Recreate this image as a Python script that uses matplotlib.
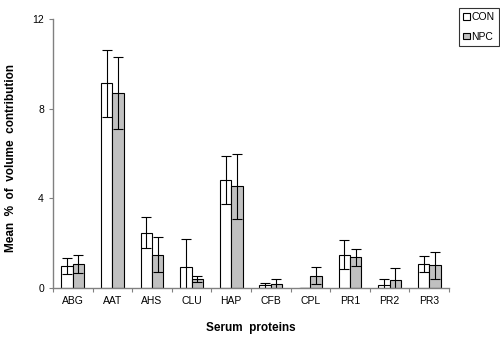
import matplotlib
matplotlib.use("Agg")
import matplotlib.pyplot as plt
import numpy as np

categories = ["ABG", "AAT", "AHS", "CLU", "HAP", "CFB", "CPL", "PR1", "PR2", "PR3"]
con_mean = [0.98, 9.14, 2.47, 0.92, 4.82, 0.12, 0.0, 1.49, 0.13, 1.07]
con_err = [0.37, 1.5, 0.7, 1.28, 1.05, 0.12, 0.0, 0.64, 0.28, 0.34]
npc_mean = [1.08, 8.7, 1.49, 0.39, 4.54, 0.19, 0.55, 1.37, 0.34, 1.01]
npc_err = [0.4, 1.6, 0.78, 0.13, 1.45, 0.22, 0.38, 0.37, 0.54, 0.6]
yticks = [0, 4, 8, 12]

plt.rcParams['font.family'] = ['Liberation Sans', 'DejaVu Sans']

fig = plt.figure(figsize=(5.0, 3.47), dpi=100)
ax = fig.add_axes([0.106, 0.17, 0.792, 0.775])

x = np.arange(len(categories))
w = 0.286
ekw = dict(ecolor='black', elinewidth=0.8, capsize=3.5, capthick=0.8)
ax.bar(x - w/2, con_mean, w, yerr=con_err, color='white', edgecolor='black',
       linewidth=0.8, error_kw=ekw, label='CON')
ax.bar(x + w/2, npc_mean, w, yerr=npc_err, color='#c0c0c0', edgecolor='black',
       linewidth=0.8, error_kw=ekw, label='NPC')

ax.set_xlim(-0.5, len(categories) - 0.5)
ax.set_ylim(0, 12)
ax.set_yticks(yticks)
ax.set_yticklabels([str(v) for v in yticks], fontsize=7.5)
ax.set_xticks(np.arange(len(categories) + 1) - 0.5, minor=False)
ax.set_xticklabels([])
ax.set_xticks(x, minor=True)
ax.set_xticklabels(categories, minor=True, fontsize=7.5)
ax.tick_params(axis='x', which='minor', length=0, pad=6)
ax.tick_params(axis='x', which='major', length=3, width=0.8, color='#808080')
ax.tick_params(axis='y', length=3, width=0.8, color='#808080')

for s in ['top', 'right']:
    ax.spines[s].set_visible(False)
for s in ['left', 'bottom']:
    ax.spines[s].set_color('#808080')
    ax.spines[s].set_linewidth(1.0)

ax.set_ylabel('Mean  %  of  volume  contribution', fontsize=8.5, fontweight='bold')
ax.yaxis.set_label_coords(-0.091, 0.485)
ax.set_xlabel('Serum  proteins', fontsize=8.5, fontweight='bold', labelpad=11)

leg = fig.legend(loc='upper right', bbox_to_anchor=(0.998, 0.978), fontsize=7.5,
                 handlelength=0.6, handleheight=0.6, handletextpad=0.15,
                 borderpad=0.45, labelspacing=0.9, borderaxespad=0.0,
                 fancybox=False, frameon=True)
leg.get_frame().set_edgecolor('black')
leg.get_frame().set_linewidth(0.8)

fig.savefig('out.png', dpi=100)
